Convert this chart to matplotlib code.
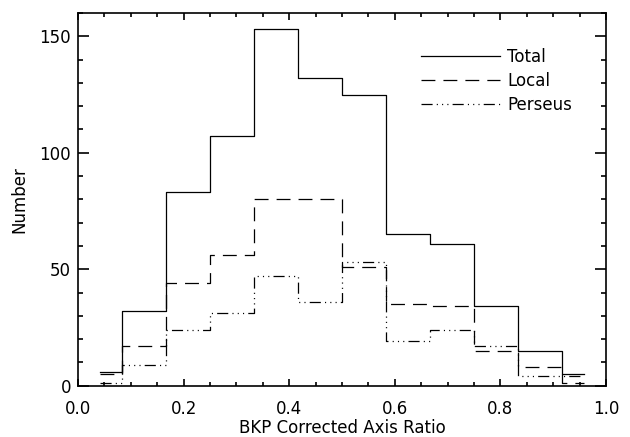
#!/usr/bin/env python3
"""Axis-ratio histogram: total sample vs Local and Perseus subsets (IDL-style step plot)."""
import numpy as np
import matplotlib
matplotlib.use("Agg")
import matplotlib.pyplot as plt
from matplotlib.ticker import MultipleLocator

plt.rcParams.update({"font.family": "DejaVu Sans", "font.size": 12,
                     "lines.scale_dashes": False, "axes.linewidth": 1.2})

# bin centres (12 bins of width 1/12) and counts
bin_centers = (np.arange(12) + 0.5) / 12
total = [6, 32, 83, 107, 153, 132, 125, 65, 61, 34, 15, 5]
local = [5, 17, 44, 56, 80, 80, 51, 35, 34, 15, 8, 1]
perseus = [1, 9, 24, 31, 47, 36, 53, 19, 24, 17, 4, 4]
labels = ["Total", "Local", "Perseus"]

fig = plt.figure(figsize=(6.3, 4.37), dpi=100)
ax = fig.add_axes([0.1238, 0.1174, 0.8381, 0.8529])

ax.step(bin_centers, total, where="mid", color="black", lw=0.9, label=labels[0])
ax.step(bin_centers, local, where="mid", color="black", lw=0.9,
        ls=(0, (10, 5.8)), label=labels[1])
ax.step(bin_centers, perseus, where="mid", color="black", lw=0.9,
        ls=(0, (8, 3, 0.8, 3, 0.8, 3, 0.8, 3)), label=labels[2])

ax.set_xlim(0, 1); ax.set_ylim(0, 160)
ax.xaxis.set_major_locator(MultipleLocator(0.2)); ax.xaxis.set_minor_locator(MultipleLocator(0.05))
ax.yaxis.set_major_locator(MultipleLocator(50)); ax.yaxis.set_minor_locator(MultipleLocator(10))
ax.tick_params(which="both", direction="in", top=True, right=True, width=1.2)
ax.tick_params(axis="x", which="major", length=5.3, pad=10)
ax.tick_params(axis="x", which="minor", length=2.7)
ax.tick_params(axis="y", which="major", length=7.6, pad=5)
ax.tick_params(axis="y", which="minor", length=3.6)
ax.set_xlabel("BKP Corrected Axis Ratio", labelpad=1)
ax.set_ylabel("Number", labelpad=8)

ax.legend(loc="upper left", bbox_to_anchor=(0.65, 0.907), frameon=False, borderpad=0,
          borderaxespad=0, handlelength=4.7, handletextpad=0.45, labelspacing=0.37)

fig.savefig("out.png", dpi=100)
